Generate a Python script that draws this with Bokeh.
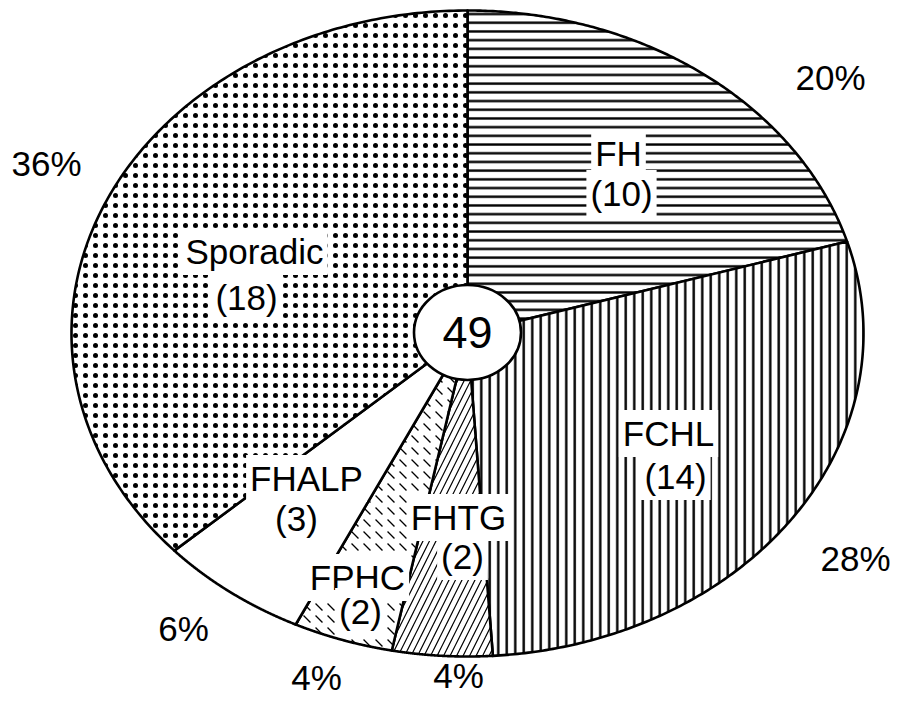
import numpy as np
from bokeh.plotting import figure
from bokeh.models import Range1d
from bokeh.core.properties import value
from bokeh.embed import file_html
from bokeh.resources import INLINE

# ---- data ----
categories = ["FH", "FCHL", "FHTG", "FPHC", "FHALP", "Sporadic"]
counts = [10, 14, 2, 2, 3, 18]
percent_labels = ["20%", "28%", "4%", "4%", "6%", "36%"]
total_label = "49"

# ---- styles ----
hatch_patterns = ["-", "|", "/", "`", " ", "."]
hatch_scales = [8.7, 8.5, 13, 12, 12, 10]
hatch_weights = [2.4, 2.4, 1.2, 1.3, 1.0, 0.5]
FONT = value("Liberation Sans")

# ---- layout (pixel coordinates) ----
W, H = 893, 696
cx, cy, rx, ry = 467, 333, 396, 323
name_pos = [
    [(618, 153), (621, 193)],
    [(668, 433), (675, 476)],
    [(458, 517), (462, 556)],
    [(357, 577), (360, 611)],
    [(306, 478), (296, 518)],
    [(254, 251), (246, 297)],
]
pct_pos = [(830, 77), (855, 558), (458, 675), (316, 677), (183, 628), (46, 163)]
center_pos = (467, 332)
center_size = (107, 95)

p = figure(width=W, height=H, x_range=Range1d(0, W), y_range=Range1d(H, 0),
           output_backend="svg", toolbar_location=None, min_border=0)
p.axis.visible = False
p.grid.visible = False
p.outline_line_color = None
p.background_fill_color = "white"
p.border_fill_color = "white"

total = sum(counts)
cum = np.concatenate([[0], np.cumsum(counts)]) / total * 2 * np.pi
for i, cat in enumerate(categories):
    t = np.linspace(cum[i], cum[i + 1], 200)
    xs = np.concatenate([[cx], cx + rx * np.sin(t)])
    ys = np.concatenate([[cy], cy - ry * np.cos(t)])
    p.patch(xs, ys, fill_color="white", line_color="black", line_width=2.6,
            line_join="round",
            hatch_pattern=hatch_patterns[i], hatch_color="black",
            hatch_scale=hatch_scales[i], hatch_weight=hatch_weights[i])

# category labels with white boxes
for i, cat in enumerate(categories):
    lines = [cat, "(%d)" % counts[i]]
    for (x, y), txt in zip(name_pos[i], lines):
        p.text(x=[x], y=[y], text=[txt], text_font=FONT, text_font_size="35px",
               text_align="center", text_baseline="middle", text_color="black",
               background_fill_color="white", padding=4)

# percentages
for (x, y), txt in zip(pct_pos, percent_labels):
    p.text(x=[x], y=[y], text=[txt], text_font=FONT, text_font_size="35px",
           text_align="center", text_baseline="middle", text_color="black")

# centre total
p.ellipse(x=[center_pos[0]], y=[center_pos[1]], width=center_size[0], height=center_size[1],
          fill_color="white", line_color="black", line_width=2.6)
p.text(x=[center_pos[0]], y=[center_pos[1]], text=[total_label], text_font=FONT,
       text_font_size="45px", text_align="center", text_baseline="middle", text_color="black")

open("out.html", "w").write(file_html(p, INLINE))
